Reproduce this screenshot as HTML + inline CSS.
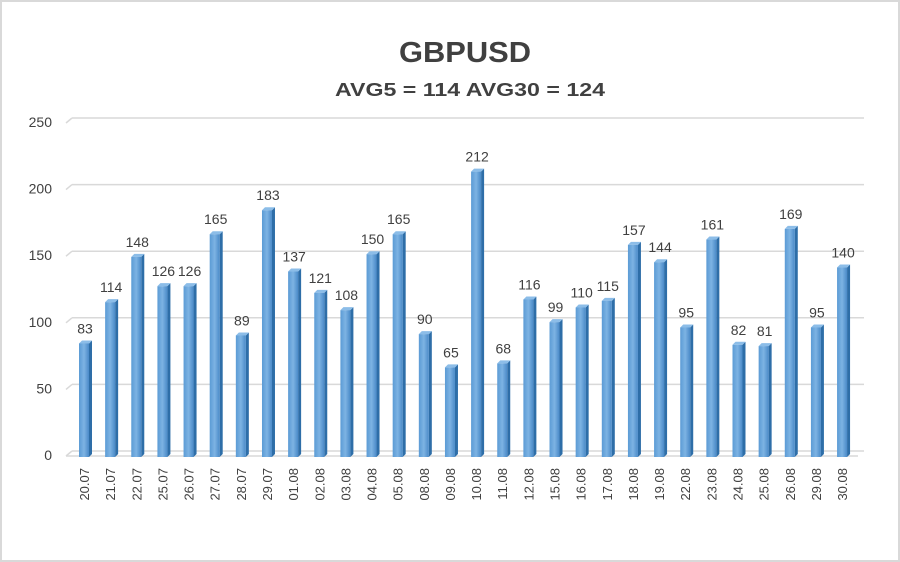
<!DOCTYPE html>
<html><head><meta charset="utf-8"><style>
html,body{margin:0;padding:0;background:#fff}
svg{display:block}
text{font-family:"Liberation Sans",sans-serif;fill:#404040}
</style></head><body>
<svg width="900" height="562" viewBox="0 0 900 562">
<rect x="1" y="1" width="898" height="560" fill="#fff" stroke="#d9d9d9" stroke-width="2"/>
<text x="465" y="62" font-size="29" font-weight="bold" text-anchor="middle" textLength="132" lengthAdjust="spacingAndGlyphs">GBPUSD</text>
<text x="470" y="96" font-size="18" font-weight="bold" text-anchor="middle" textLength="270" lengthAdjust="spacingAndGlyphs">AVG5 = 114 AVG30 = 124</text>
<g id="g"></g>
</svg>
<script>
var vals=[83,114,148,126,126,165,89,183,137,121,108,150,165,90,65,212,68,116,99,110,115,157,144,95,161,82,81,169,95,140];
var labs=["20.07","21.07","22.07","25.07","26.07","27.07","28.07","29.07","01.08","02.08","03.08","04.08","05.08","08.08","09.08","10.08","11.08","12.08","15.08","16.08","17.08","18.08","19.08","22.08","23.08","24.08","25.08","26.08","29.08","30.08"];
var s='',ns='http://www.w3.org/2000/svg';
function Y(v){return 451-v*1.332;}
for(var k=0;k<=5;k++){var y=Y(k*50);
s+='<line x1="72" y1="'+y+'" x2="864" y2="'+y+'" stroke="#d9d9d9" stroke-width="1.5"/>';
s+='<line x1="66" y1="'+(y+5)+'" x2="72" y2="'+y+'" stroke="#d9d9d9" stroke-width="1.5"/>';
s+='<text x="52" y="'+(y+9)+'" font-size="14" text-anchor="end">'+(k*50)+'</text>';}
s+='<line x1="66" y1="456" x2="858" y2="456" stroke="#d9d9d9" stroke-width="1.5"/>';
s+='<defs><linearGradient id="bg" x1="0" x2="1"><stop offset="0" stop-color="#5b9bd5"/><stop offset="0.5" stop-color="#7db3e3"/><stop offset="1" stop-color="#4a8ac8"/></linearGradient></defs>';
for(var i=0;i<30;i++){var x=79+i*26.14,t=Y(vals[i])+3,b=457;
s+='<polygon points="'+(x+10)+','+t+' '+(x+13)+','+(t-3)+' '+(x+13)+','+(b-3)+' '+(x+10)+','+b+'" fill="#2e6ea8"/>';
s+='<polygon points="'+x+','+t+' '+(x+3)+','+(t-3)+' '+(x+13)+','+(t-3)+' '+(x+10)+','+t+'" fill="#8cbde8"/>';
s+='<rect x="'+x+'" y="'+t+'" width="10" height="'+(b-t)+'" fill="url(#bg)"/>';
s+='<text x="'+(x+6)+'" y="'+(t-10)+'" font-size="14" text-anchor="middle">'+vals[i]+'</text>';
s+='<text transform="translate('+(x+10)+',468) rotate(-90)" font-size="13" text-anchor="end">'+labs[i]+'</text>';}
document.getElementById('g').innerHTML=s;
</script>
</body></html>
